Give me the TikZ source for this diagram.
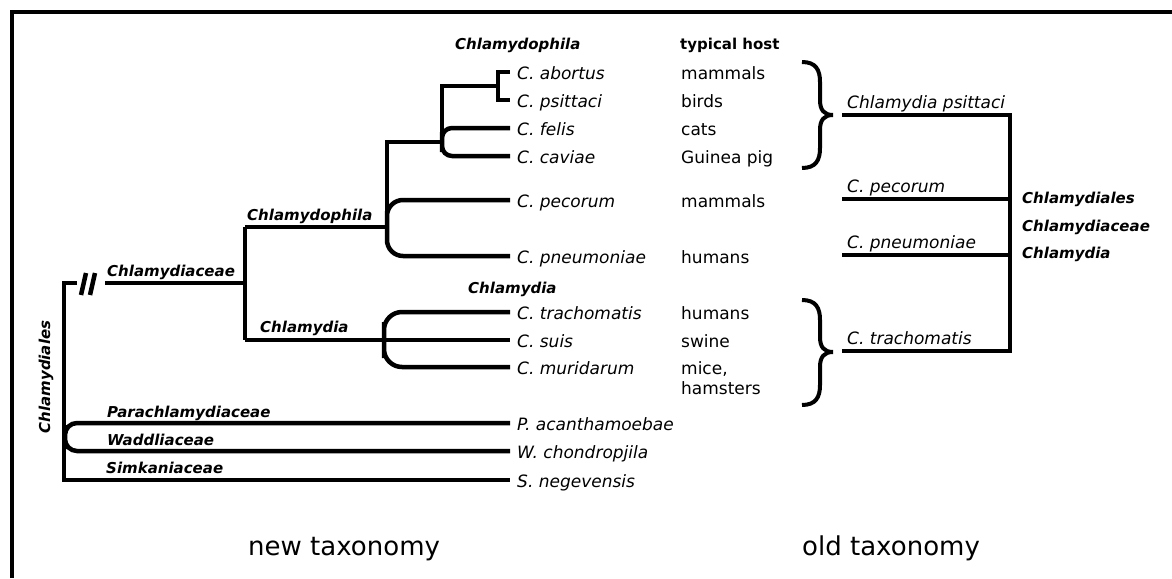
\documentclass[tikz,border=0pt]{standalone}
\usepackage{fontspec}
\setmainfont{DejaVu Sans}
\usepackage{tikz}

\begin{document}
\begin{tikzpicture}[x=1pt, y=-1pt,
    tree/.style={black, line width=4.5pt},
    leaf/.style={anchor=west, inner xsep=7pt, inner ysep=0pt, text height=15pt, text depth=0pt, font=\fontsize{17}{20}\selectfont\itshape},
    host/.style={anchor=base west, inner sep=0pt, font=\fontsize{17}{20}\selectfont},
    taxon/.style={anchor=base west, inner sep=0pt, font=\fontsize{15}{18}\selectfont\bfseries\itshape},
    oldname/.style={anchor=base west, inner sep=0pt, font=\fontsize{17}{20}\selectfont\itshape},
    caption/.style={anchor=base west, inner sep=0pt, font=\fontsize{26}{30}\selectfont}]
    \useasboundingbox (0,0) rectangle (1172,578);
    \draw[line width=4pt] (12,578) -- (12,12) -- (1172,12);
    % leaves of the new tree
    \node[leaf] (ab) at (510,72) {C. abortus};
    \node[leaf] (ps) at (510,100) {C. psittaci};
    \node[leaf] (fe) at (510,128) {C. felis};
    \node[leaf] (ca) at (510,156) {C. caviae};
    \node[leaf] (pe) at (510,200) {C. pecorum};
    \node[leaf] (pn) at (510,256) {C. pneumoniae};
    \node[leaf] (tr) at (510,312) {C. trachomatis};
    \node[leaf] (su) at (510,340) {C. suis};
    \node[leaf] (mu) at (510,367) {C. muridarum};
    \node[leaf] (pa) at (510,423) {P. acanthamoebae};
    \node[leaf] (wa) at (510,451) {W. chondropjila};
    \node[leaf] (sn) at (510,480) {S. negevensis};
    % hosts
    \node[taxon, font=\fontsize{15}{18}\selectfont\bfseries] (hhead) at (680,50) {typical host};
    \node[host] (hab) at (681,79.5) {mammals};
    \node[host] (hps) at (681,107.5) {birds};
    \node[host] (hfe) at (681,135.5) {cats};
    \node[host] (hca) at (681,163.5) {Guinea pig};
    \node[host] (hpe) at (681,207.5) {mammals};
    \node[host] (hpn) at (681,263.5) {humans};
    \node[host] (htr) at (681,319.5) {humans};
    \node[host] (hsu) at (681,347.5) {swine};
    \node[host] (hmu) at (681,374.5) {mice,};
    \node[host] (hmu2) at (681,394.5) {hamsters};
    % junctions
    \coordinate (ord) at (64,283);
    \coordinate (fam) at (245,283);
    \coordinate (cph) at (387,227);
    \coordinate (cpa) at (442,142);
    \coordinate (cpb) at (498,86);
    \coordinate (cla) at (384,340);
    \coordinate (par) at (65,437);
    % branches
    \draw[tree] (77,283) -- (ord) -- (64,480) -- (sn.west);
    \draw[tree] (81,295) -- (86,273);
    \draw[tree] (90,295) -- (95,273);
    \draw[tree] (105,283) -- (fam);
    \draw[tree] (245,227) -- (245,340);
    \draw[tree] (245,227) -- (cph);
    \draw[tree, rounded corners=16pt] (pe.west) -| (cph) |- (pn.west);
    \draw[tree] (387,216) |- (cpa);
    \draw[tree, rounded corners=10pt] (fe.west) -| (cpa) |- (ca.west);
    \draw[tree] (442,135) |- (cpb);
    \draw[tree] (ab.west) -| (cpb) |- (ps.west);
    \draw[tree] (245,340) -- (su.west);
    \draw[tree, rounded corners=18pt] (tr.west) -| (cla) |- (mu.west);
    \draw[tree, rounded corners=12pt] (pa.west) -| (par) |- (wa.west);
    % taxon labels
    \node[taxon] (lfam) at (107,276) {Chlamydiaceae};
    \node[taxon] (lcph) at (247,220) {Chlamydophila};
    \node[taxon] (lcla) at (260,332) {Chlamydia};
    \node[taxon] (lpar) at (107,417) {Parachlamydiaceae};
    \node[taxon] (lwad) at (107,445) {Waddliaceae};
    \node[taxon] (lsim) at (106,473) {Simkaniaceae};
    \node[taxon, anchor=base, rotate=90] (lord) at (50,377) {Chlamydiales};
    \node[taxon] (hcph) at (455,50) {Chlamydophila};
    \node[taxon] (hcla) at (468,293) {Chlamydia};
    % braces
    \draw[line width=4pt] (802,62) .. controls (816,62) and (820,70) .. (820,82) -- (820,100)
        .. controls (820,110) and (824,115) .. (833,115) .. controls (824,115) and (820,120) .. (820,130)
        -- (820,148) .. controls (820,160) and (816,168) .. (802,168);
    \draw[line width=4pt] (802,300) .. controls (816,300) and (820,308) .. (820,320) -- (820,337)
        .. controls (820,347) and (824,352) .. (833,352) .. controls (824,352) and (820,357) .. (820,367)
        -- (820,385) .. controls (820,397) and (816,405) .. (802,405);
    % old taxonomy
    \coordinate (opsi) at (842,115);
    \coordinate (opec) at (842,199);
    \coordinate (opne) at (842,255);
    \coordinate (otra) at (842,351);
    \coordinate (oroot) at (1010,115);
    \draw[tree, line width=4pt] (opsi) -- (oroot) |- (otra);
    \draw[tree, line width=4pt] (opec) -- (opec -| oroot);
    \draw[tree, line width=4pt] (opne) -- (opne -| oroot);
    \node[oldname] (npsi) at (847,108) {Chlamydia psittaci};
    \node[oldname] (npec) at (847,192) {C. pecorum};
    \node[oldname] (npne) at (847,248) {C. pneumoniae};
    \node[oldname] (ntra) at (847,344) {C. trachomatis};
    \node[taxon] (rord) at (1022,203) {Chlamydiales};
    \node[taxon] (rfam) at (1022,231) {Chlamydiaceae};
    \node[taxon] (rgen) at (1022,258) {Chlamydia};
    % captions
    \node[caption] (cnew) at (248,555) {new taxonomy};
    \node[caption] (cold) at (802,555) {old taxonomy};
\end{tikzpicture}
\end{document}
